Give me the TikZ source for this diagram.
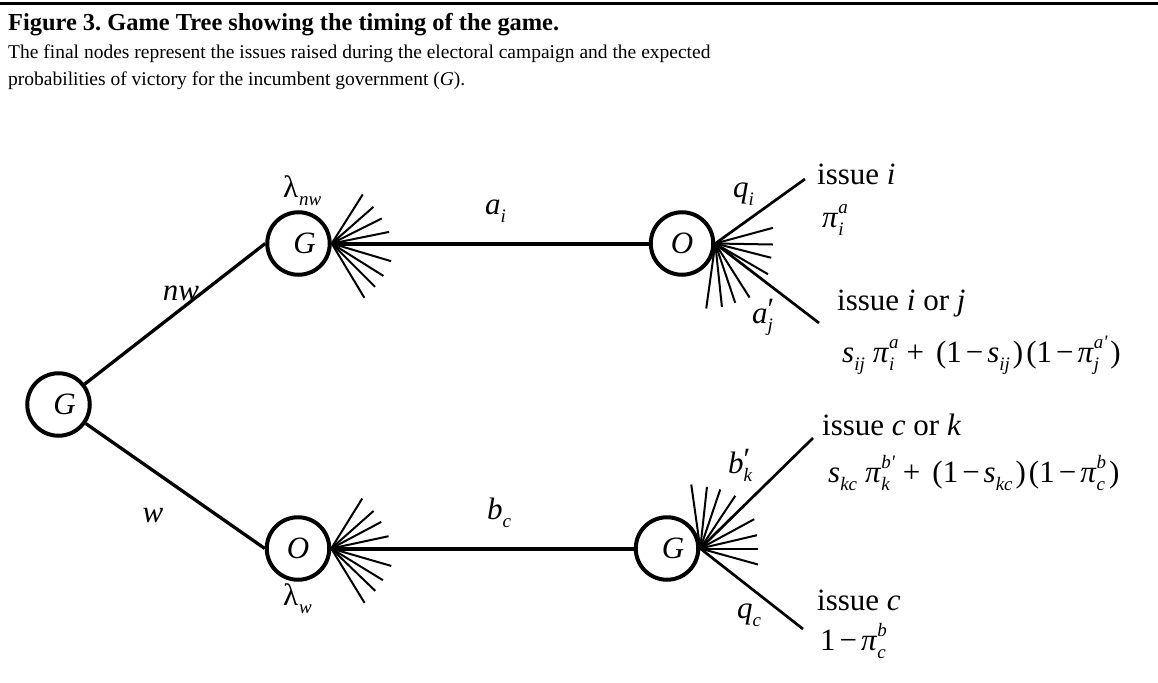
\documentclass[tikz,border=0pt]{standalone}
\usepackage{fontspec}
\setmainfont{Liberation Serif}
\newcommand\LblSize{\fontsize{31}{37}\selectfont}
\newcommand\SmSize{\fontsize{19}{19}\selectfont}
\newcommand\Sb[1]{\raisebox{-0.27em}{\SmSize\itshape #1}}
\newcommand\Sup[1]{\raisebox{0.45em}{\SmSize\itshape #1}}
\newcommand\Stack[2]{{\setbox0\hbox{\raisebox{-0.27em}{\SmSize\itshape #1}}\setbox2\hbox{#2}\dimen0=\wd0 \ifdim\wd2>\dimen0 \dimen0=\wd2\fi\hbox to\dimen0{\rlap{\box0}\box2\hss}}}
\newcommand\Mn{\kern4pt−\kern4pt}
\begin{document}
\begin{tikzpicture}[x=1pt,y=-1pt,
  state/.style={circle,draw,line width=4pt,minimum size=62.5pt,inner sep=0pt,font=\LblSize\itshape},
  stem/.style={line width=3.3pt},
  bar/.style={line width=4pt},
  branch/.style={line width=2.7pt},
  ray/.style={line width=2pt},
  lbl/.style={inner sep=0pt,font=\LblSize},
  captext/.style={inner sep=0pt,anchor=base west}]
\useasboundingbox (0,0) rectangle (1158,682);
\coordinate (ruleL) at (0,3.5);
\coordinate (ruleR) at (1158,3.5);
\draw[line width=3.5pt] (ruleL) -- (ruleR);
% caption
\node[captext,font=\fontsize{24.4}{28}\selectfont\bfseries] (title) at (8,31) {\frenchspacing Figure 3. Game Tree showing the timing of the game.};
\node[captext,font=\fontsize{19.5}{24}\selectfont] (line1) at (8,59) {The final nodes represent the issues raised during the electoral campaign and the expected};
\node[captext,font=\fontsize{19.5}{24}\selectfont] (line2) at (8,86) {probabilities of victory for the incumbent government (\textit{G}).};
% states
\node[state] (root) at (58.5,404.5) {\hspace{12pt}G};
\node[state] (Gnw) at (298.5,243.5) {\hspace{12pt}G};
\node[state] (Otop) at (682,243.5) {O};
\node[state] (Obot) at (298,548.5) {O};
\node[state] (Gbot) at (667,548.5) {\hspace{12pt}G};
% stems
\draw[stem] (root) -- (Gnw.west);
\draw[stem] (root) -- (Obot.west);
\draw[bar] (Gnw.east) -- (Otop.west);
\draw[bar] (Obot.east) -- (Gbot.west);
% fan at Gnw
\foreach \a/\l in {57.7/58,41.3/55.5,26.6/56,11.4/58.5,-16.6/62,-32.1/61,-45/61.3,-59/63.4}
  \draw[ray] (Gnw.east) -- ++(-\a:\l);
% fan at Obot
\foreach \a/\l in {58.2/58.8,41.6/56.6,28/56.6,12.1/58.6,-16.2/62.5,-31.5/60.6,-43.9/61.1,-58.5/63.8}
  \draw[ray] (Obot.east) -- ++(-\a:\l);
% fan at Otop
\foreach \a/\l in {15.2/59.8,-1/57.7,-14.3/57.8,-30.2/61,-57.6/64,-71.4/62.6,-84/63.7,-97.9/65.6}
  \draw[ray] (Otop.east) -- ++(-\a:\l);
\coordinate (endI) at (805,179);
\coordinate (endIJ) at (819,323);
\draw[branch] (Otop.east) -- (endI);
\draw[branch] (Otop.east) -- (endIJ);
% fan at Gbot
\foreach \a/\l in {98/64.6,83.8/62,71.3/62.3,56.4/63.3,28.5/61.4,13.2/58.2,0/57.7,-15.5/59.9}
  \draw[ray] (Gbot.east) -- ++(-\a:\l);
\coordinate (endCK) at (813,438);
\coordinate (endC) at (803,629);
\draw[branch] (Gbot.east) -- (endCK);
\draw[branch] (Gbot.east) -- (endC);
% edge labels
\node[lbl] (nw) at (181,293) {\textit{nw}};
\node[lbl] (w) at (153,516) {\textit{w}};
\node[lbl,anchor=base west] (lamnw) at (283,197) {λ\kern1pt\Sb{nw}};
\node[lbl,anchor=base west] (lamw) at (283,605) {λ\kern1pt\Sb{w}};
\node[lbl,anchor=base west] (ai) at (485,214) {\textit{a}\Sb{i}};
\node[lbl,anchor=base west] (bc) at (487,519) {\textit{b}\Sb{c}};
\node[lbl,anchor=base west] (qi) at (733,197) {\textit{q}\Sb{i}};
\node[lbl,anchor=base west] (ajp) at (752,323) {\textit{a}\Stack{j}{\raisebox{0.12em}{′}}};
\node[lbl,anchor=base west] (bkp) at (728,473) {\textit{b}\Stack{k}{\raisebox{0.12em}{′}}};
\node[lbl,anchor=base west] (qc) at (737,618) {\textit{q}\Sb{c}};
% outcomes
\node[lbl,anchor=base west] (issI) at (817,184) {issue \textit{i}};
\node[lbl,anchor=base west] (payI) at (822,227) {\textit{π}\Stack{i}{\Sup{a}}};
\node[lbl,anchor=base west] (issIJ) at (837,310) {issue \textit{i} or \textit{j}};
\node[lbl,anchor=base west] (payIJ) at (842,362) {\textit{s}\Sb{ij}\kern8pt\textit{π}\Stack{i}{\Sup{a}}\kern8pt+\kern12pt(1\Mn\textit{s}\Sb{ij}\kern3pt)\kern3pt(1\Mn\textit{π}\Stack{j}{\Sup{a\textquotesingle}}\kern3pt)};
\node[lbl,anchor=base west] (issCK) at (822,435) {issue \textit{c} or \textit{k}};
\node[lbl,anchor=base west] (payCK) at (828,482) {\textit{s}\Sb{kc}\kern8pt\textit{π}\Stack{k}{\Sup{b\textquotesingle}}\kern8pt+\kern12pt(1\Mn\textit{s}\Sb{kc}\kern3pt)\kern3pt(1\Mn\textit{π}\Stack{c}{\Sup{b}}\kern3pt)};
\node[lbl,anchor=base west] (issC) at (817,610) {issue \textit{c}};
\node[lbl,anchor=base west] (payC) at (820,650) {1\Mn\textit{π}\Stack{c}{\Sup{b}}};
\end{tikzpicture}
\end{document}
